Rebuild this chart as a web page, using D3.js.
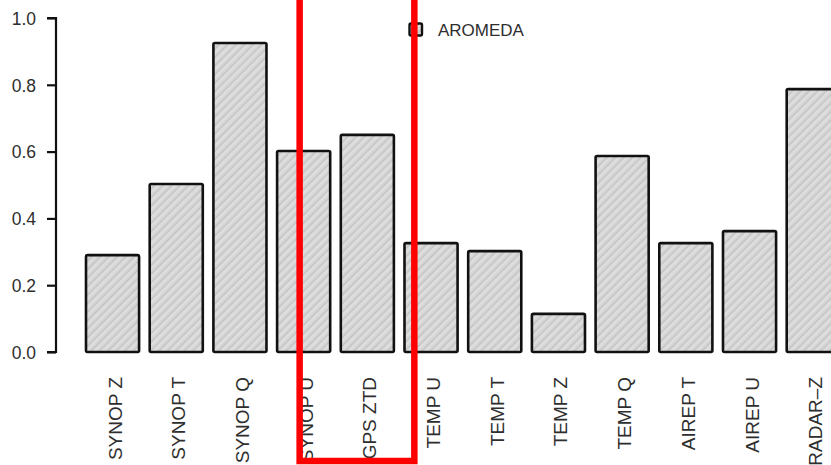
<!DOCTYPE html>
<html>
<head>
<meta charset="utf-8">
<script src="https://cdn.jsdelivr.net/npm/d3@7"></script>
<style>
  html, body { margin: 0; padding: 0; background: #fff; }
  svg { display: block; }
  text { font-family: "Liberation Sans", Arial, Helvetica, sans-serif; fill: #2e2e2e; }
</style>
</head>
<body>
<div id="chart"></div>
<script>
// Observation types and their values for the AROMEDA run
const categories = ["SYNOP Z", "SYNOP T", "SYNOP Q", "SYNOP U", "GPS ZTD", "TEMP U",
                    "TEMP T", "TEMP Z", "TEMP Q", "AIREP T", "AIREP U", "RADAR\u2013Z"];
const values = [0.29, 0.503, 0.925, 0.602, 0.65, 0.326, 0.302, 0.114, 0.587, 0.326, 0.362, 0.787];
const yTicks = [0.0, 0.2, 0.4, 0.6, 0.8, 1.0];
const seriesName = "AROMEDA";
const highlighted = ["SYNOP U", "GPS ZTD"];

const W = 831, H = 465;
const svg = d3.select("#chart").append("svg").attr("width", W).attr("height", H);

// Diagonal hatch fill for the bars
const defs = svg.append("defs");
const pat = defs.append("pattern")
  .attr("id", "hatch").attr("patternUnits", "userSpaceOnUse")
  .attr("width", 6).attr("height", 6)
  .attr("patternTransform", "rotate(45)");
pat.append("rect").attr("width", 6).attr("height", 6).attr("fill", "#d5d5d5");
pat.append("line").attr("x1", 0).attr("y1", 0).attr("x2", 0).attr("y2", 6)
  .attr("stroke", "#bcbcbc").attr("stroke-width", 1.6);
pat.append("line").attr("x1", 3).attr("y1", 0).attr("x2", 3).attr("y2", 6)
  .attr("stroke", "#e4e4e4").attr("stroke-width", 1.2);

const y = d3.scaleLinear().domain([0, 1]).range([352, 18]);
const step = 63.7;
const x = d3.scaleBand()
  .domain(categories)
  .range([86 - step / 12, 86 - step / 12 + step * categories.length])
  .paddingInner(1 / 6).paddingOuter(1 / 12);

// Bars
svg.append("g").selectAll("rect").data(categories).join("rect")
  .attr("x", d => x(d))
  .attr("y", (d, i) => y(values[i]))
  .attr("width", x.bandwidth())
  .attr("height", (d, i) => y(0) - y(values[i]))
  .attr("rx", 1.5)
  .attr("fill", "url(#hatch)")
  .attr("stroke", "#111").attr("stroke-width", 2.6);

// Y axis
const yAxis = d3.axisLeft(y).tickValues(yTicks).tickFormat(d3.format(".1f"))
  .tickSize(9).tickPadding(11);
const gy = svg.append("g").attr("transform", "translate(56,0)").call(yAxis);
gy.select(".domain").attr("stroke", "#111").attr("stroke-width", 2.2)
  .attr("d", `M-9,${y(1)}H0V${y(0)}H-9`);
gy.selectAll(".tick line").attr("stroke", "#111").attr("stroke-width", 2.2);
gy.selectAll(".tick text").attr("font-size", 17.5).attr("fill", "#2e2e2e")
  .attr("font-family", "Liberation Sans, Arial, sans-serif").attr("dy", "0.36em");

// Category labels, rotated
svg.append("g").selectAll("text").data(categories).join("text")
  .attr("transform", d => `translate(${x(d) + x.bandwidth() / 2 + 9},377) rotate(-90)`)
  .attr("text-anchor", "end")
  .attr("font-size", 19)
  .text(d => d);

// Legend
const lg = svg.append("g").attr("transform", "translate(409.5,23.5)");
lg.append("rect").attr("width", 12.5).attr("height", 12).attr("rx", 1.5)
  .attr("fill", "url(#hatch)").attr("stroke", "#111").attr("stroke-width", 2.4);
lg.append("text").attr("x", 28.5).attr("y", 12.5).attr("font-size", 17).text(seriesName);

// Red frame around the highlighted observation types
const hx0 = x(highlighted[0]) + x.bandwidth() / 2 - 2;
const hx1 = x(highlighted[1]) + x.bandwidth() / 2 + 49;
svg.append("rect")
  .attr("x", hx0 - 2).attr("y", -10)
  .attr("width", hx1 - hx0).attr("height", 471)
  .attr("fill", "none").attr("stroke", "#ff0000").attr("stroke-width", 6.5);
</script>
</body>
</html>
